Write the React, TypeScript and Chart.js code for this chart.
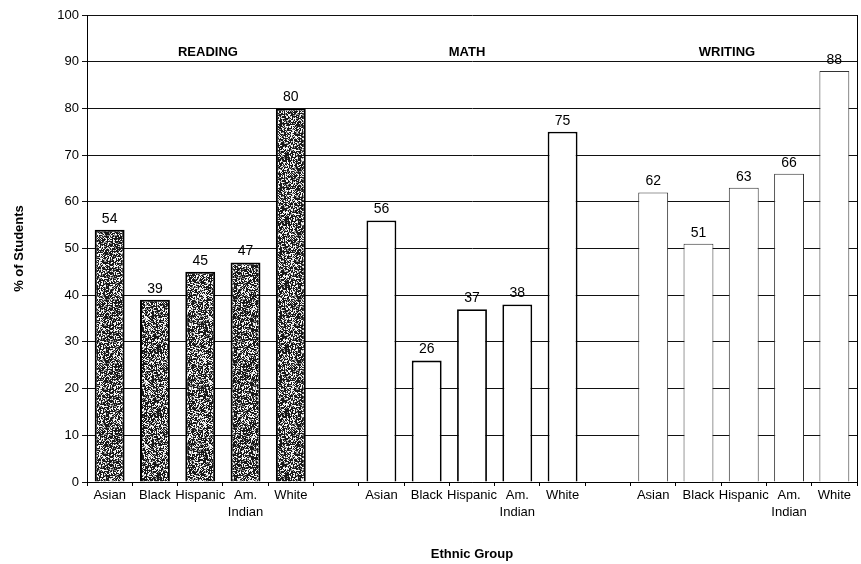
import React, { useEffect, useRef } from "react";
import { Chart, registerables } from "chart.js";

Chart.register(...registerables);

const groups = ["READING", "MATH", "WRITING"];
const groupLabelSlots = [2.17, 7.89, 13.63];
const ethnicities: (string | string[])[] = ["Asian", "Black", "Hispanic", ["Am.", "Indian"], "White"];
const readingValues = [54, 39, 45, 47, 80];
const mathValues = [56, 26, 37, 38, 75];
const writingValues = [62, 51, 63, 66, 88];
const yTicks = [0, 10, 20, 30, 40, 50, 60, 70, 80, 90, 100];
const yTitle = "% of Students";
const xTitle = "Ethnic Group";

const FONT = "'Liberation Sans', Arial, sans-serif";

function makeSpeckle(): CanvasPattern | string {
  const c = document.createElement("canvas");
  c.width = 64;
  c.height = 64;
  const ctx = c.getContext("2d");
  if (!ctx) return "#666";
  const img = ctx.createImageData(64, 64);
  let s = 12345;
  for (let i = 0; i < 64 * 64; i++) {
    s = (s * 1103515245 + 12345) & 0x7fffffff;
    const r = (s >> 8) / 0x7fffff;
    const v = r < 0.55 ? 25 : r < 0.7 ? 140 : 245;
    img.data[i * 4] = v;
    img.data[i * 4 + 1] = v;
    img.data[i * 4 + 2] = v;
    img.data[i * 4 + 3] = 255;
  }
  ctx.putImageData(img, 0, 0);
  return ctx.createPattern(c, "repeat") || "#666";
}

export default function App() {
  const ref = useRef<HTMLCanvasElement>(null);

  useEffect(() => {
    if (!ref.current) return;
    const speckle = makeSpeckle();

    const labels: (string | string[])[] = [];
    const data: (number | null)[] = [];
    const bg: (string | CanvasPattern)[] = [];
    const bc: string[] = [];
    const bw: number[] = [];
    const all = [readingValues, mathValues, writingValues];
    all.forEach((vals, g) => {
      if (g > 0) {
        labels.push("");
        data.push(null);
        bg.push("transparent");
        bc.push("transparent");
        bw.push(0);
      }
      vals.forEach((v, i) => {
        labels.push(ethnicities[i]);
        data.push(v);
        bg.push(g === 0 ? speckle : "#ffffff");
        bc.push(g === 0 ? "#000000" : g === 1 ? "#000000" : "#333333");
        bw.push(g === 0 ? 2 : g === 1 ? 1.8 : 1);
      });
    });

    const overlay = {
      id: "overlay",
      afterDatasetsDraw(chart: any) {
        const ctx = chart.ctx;
        const meta = chart.getDatasetMeta(0);
        ctx.save();
        ctx.fillStyle = "#000";
        ctx.textAlign = "center";
        ctx.textBaseline = "bottom";
        ctx.font = `14px ${FONT}`;
        meta.data.forEach((el: any, i: number) => {
          const v = data[i];
          if (v == null) return;
          ctx.fillText(String(v), el.x, el.y - 4);
        });
        const xs = chart.scales.x;
        const ys = chart.scales.y;
        ctx.font = `bold 13px ${FONT}`;
        ctx.textBaseline = "middle";
        groups.forEach((g, i) => {
          ctx.fillText(g, xs.getPixelForValue(groupLabelSlots[i]), ys.getPixelForValue(92));
        });
        const ca = chart.chartArea;
        ctx.strokeStyle = "#000";
        ctx.lineWidth = 1;
        ctx.beginPath();
        ctx.moveTo(ca.right + 0.5, ca.top);
        ctx.lineTo(ca.right + 0.5, ca.bottom);
        ctx.stroke();
        ctx.font = `bold 13px ${FONT}`;
        ctx.fillText(xTitle, 472, 554);
        ctx.translate(19, (ca.top + ca.bottom) / 2);
        ctx.rotate(-Math.PI / 2);
        ctx.fillText(yTitle, 0, 0);
        ctx.restore();
      },
    };

    const chart = new Chart(ref.current, {
      type: "bar",
      data: {
        labels,
        datasets: [
          {
            data,
            backgroundColor: bg as any,
            borderColor: bc,
            borderWidth: bw,
            barPercentage: 0.66,
            categoryPercentage: 1,
          },
        ],
      },
      options: {
        responsive: false,
        animation: false,
        devicePixelRatio: 1,
        layout: { padding: { top: 15, right: 4, left: 0, bottom: 0 } },
        plugins: { legend: { display: false }, tooltip: { enabled: false } },
        scales: {
          x: {
            offset: true,
            grid: {
              offset: true,
              drawOnChartArea: false,
              drawTicks: true,
              tickLength: 4,
              color: "#000",
            },
            border: { color: "#000", width: 1 },
            ticks: {
              color: "#000",
              font: { family: FONT, size: 13, lineHeight: 1.3 },
              maxRotation: 0,
              autoSkip: false,
              padding: 1,
            },
            afterFit: (s: any) => {
              s.height = 82;
            },
          },
          y: {
            min: 0,
            max: 100,
            afterBuildTicks: (s: any) => {
              s.ticks = yTicks.map((v) => ({ value: v }));
            },
            grid: { color: "#111", lineWidth: 1, tickLength: 5 },
            border: { color: "#000", width: 1 },
            ticks: {
              color: "#000",
              font: { family: FONT, size: 13 },
              padding: 3,
            },
            afterFit: (s: any) => {
              s.width = 87;
            },
          },
        },
      },
      plugins: [overlay],
    });
    return () => chart.destroy();
  }, []);

  return (
    <div style={{ position: "fixed", left: 0, top: 0, width: 861, height: 564, background: "#fff" }}>
      <canvas ref={ref} width={861} height={564} />
    </div>
  );
}
